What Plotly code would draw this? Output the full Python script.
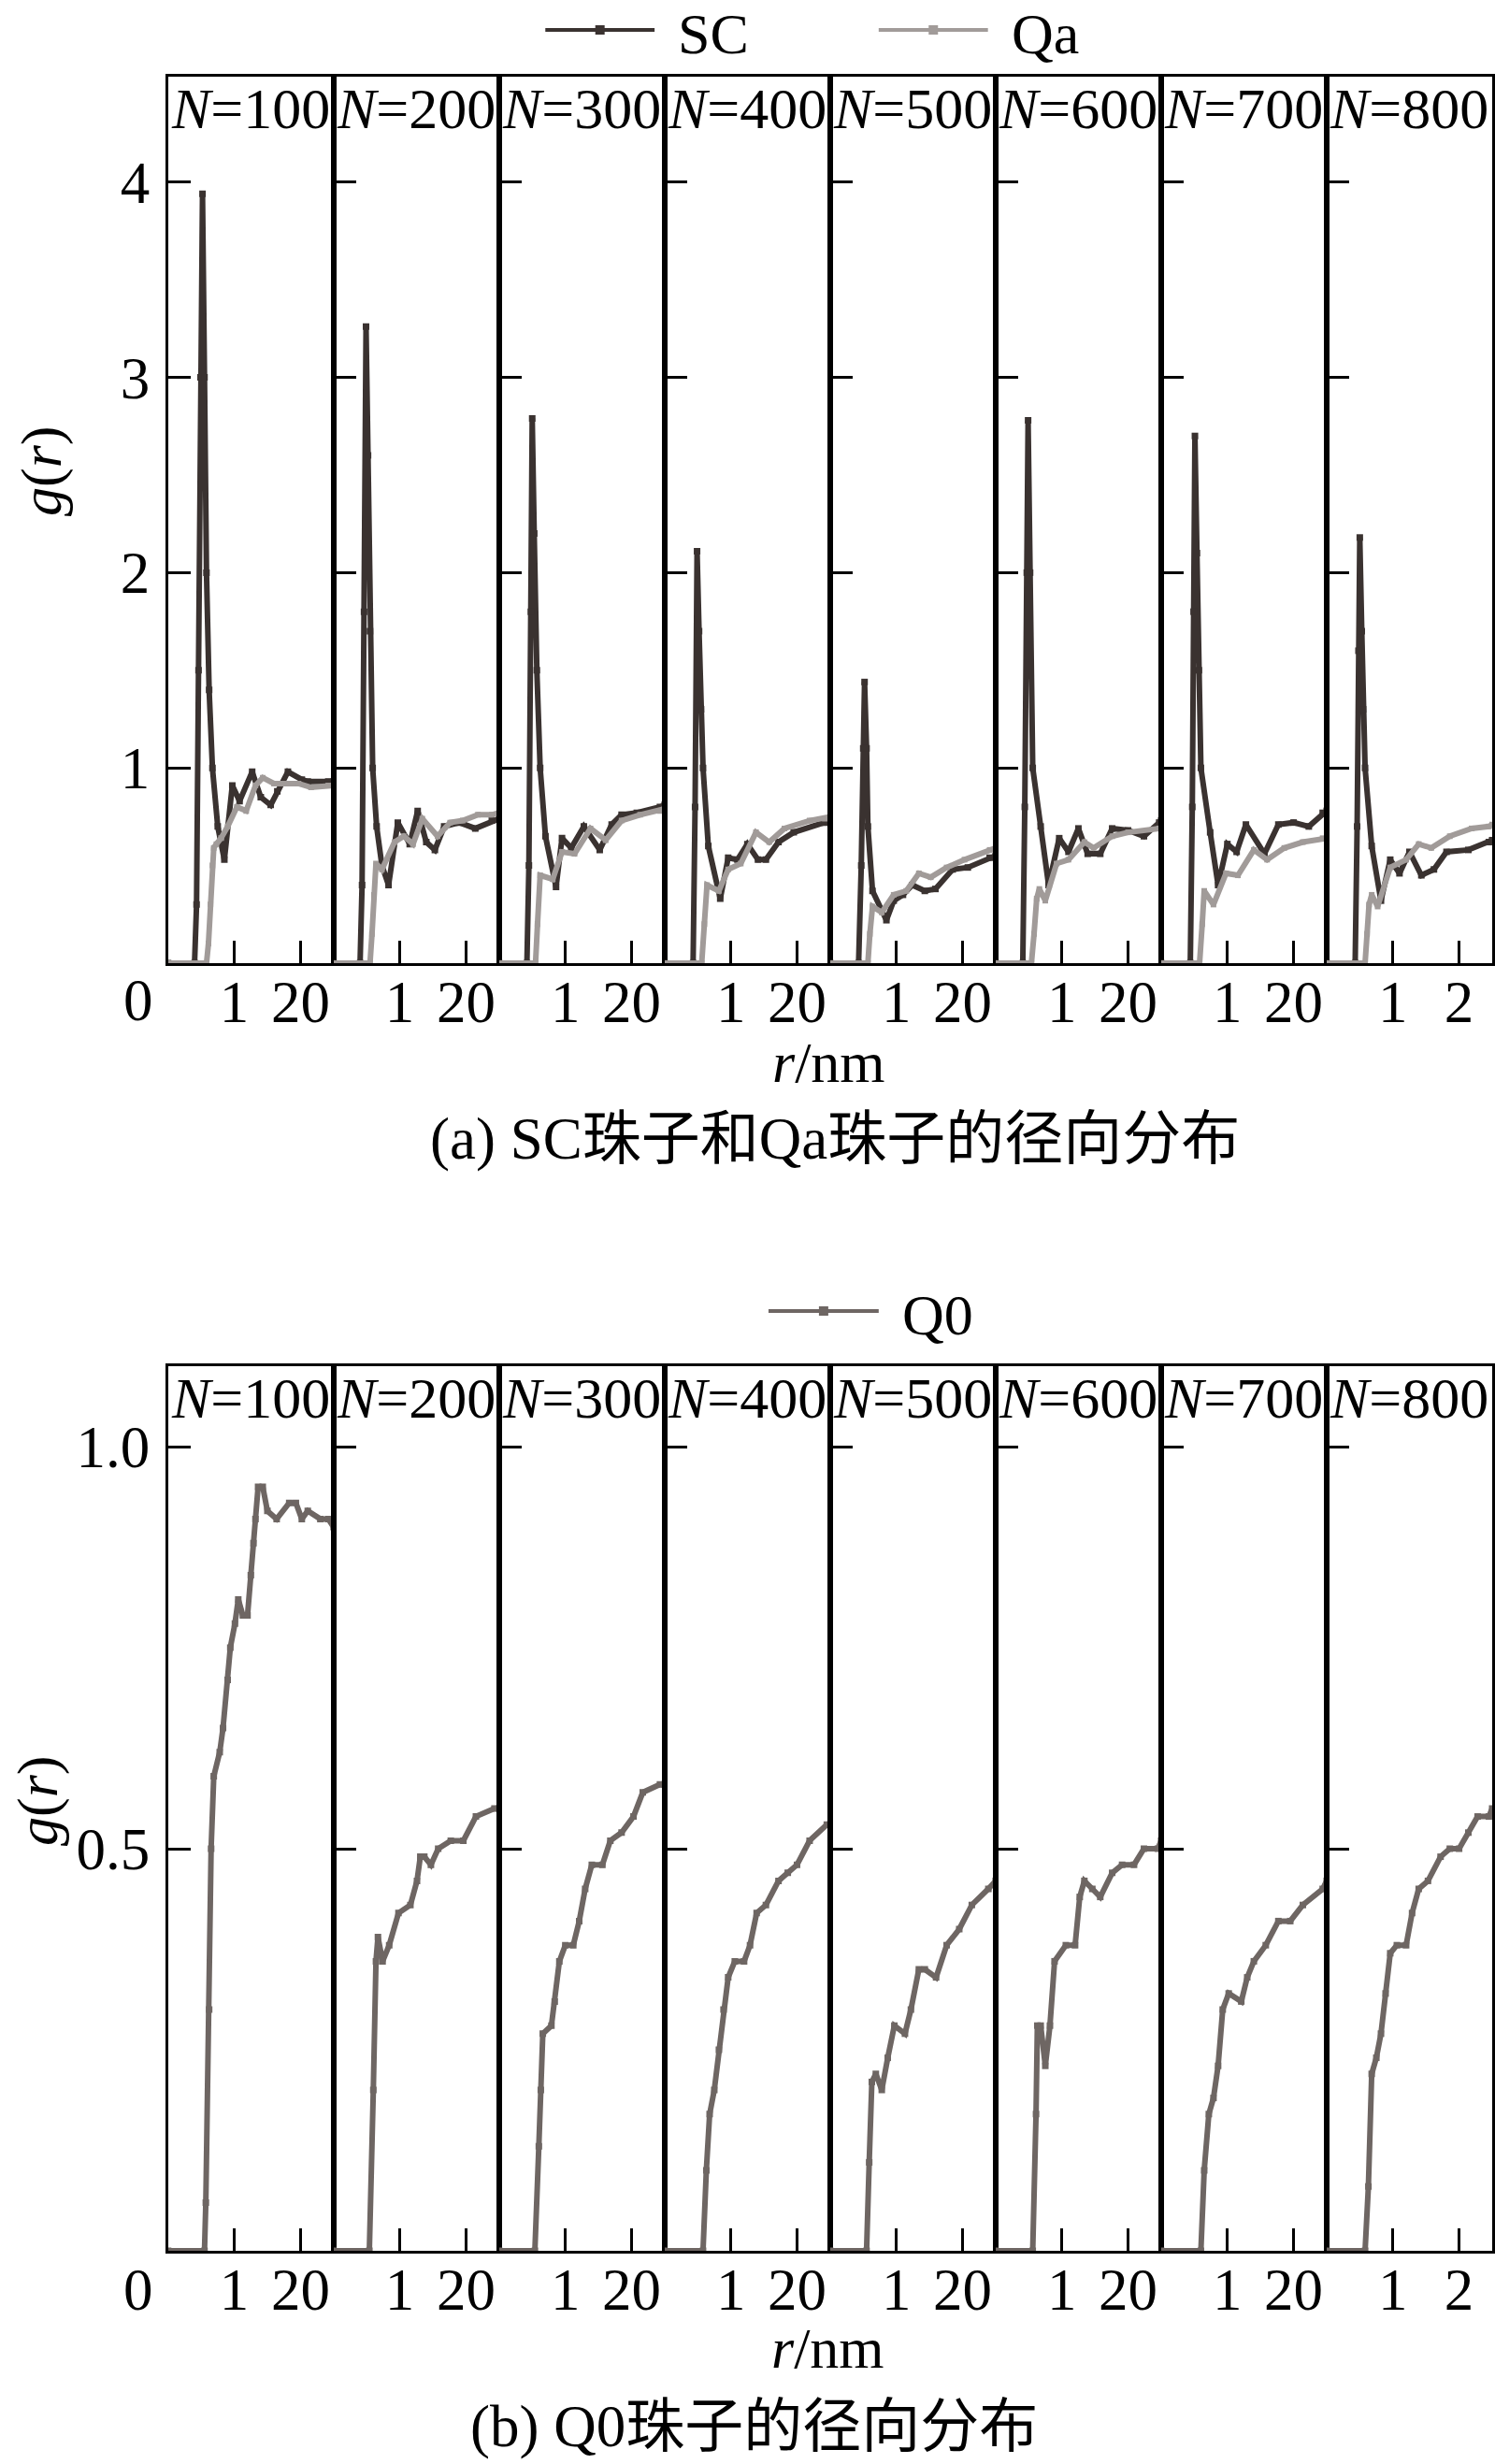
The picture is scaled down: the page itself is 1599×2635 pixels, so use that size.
import plotly.graph_objects as go
from plotly.subplots import make_subplots

# ---------------- data ----------------
n_values = [100, 200, 300, 400, 500, 600, 700, 800]

# (a) SC beads
r_sc_100 = [0, 0.40, 0.43, 0.46, 0.49, 0.52, 0.55, 0.58, 0.62, 0.67, 0.75, 0.85, 0.97, 1.08, 1.27, 1.40, 1.55, 1.65, 1.81, 2.02, 2.11, 2.42, 2.50]
g_sc_100 = [0, 0, 0.3, 1.5, 3.0, 3.94, 3.0, 2.0, 1.4, 1.0, 0.7, 0.53, 0.91, 0.83, 0.98, 0.85, 0.81, 0.88, 0.98, 0.94, 0.93, 0.93, 0.93]
r_sc_200 = [0, 0.40, 0.43, 0.46, 0.49, 0.52, 0.55, 0.59, 0.65, 0.73, 0.83, 0.97, 1.15, 1.27, 1.40, 1.53, 1.67, 1.90, 2.14, 2.39, 2.50]
g_sc_200 = [0, 0, 0.4, 1.8, 3.26, 2.6, 1.7, 1.0, 0.7, 0.5, 0.40, 0.72, 0.61, 0.78, 0.62, 0.58, 0.70, 0.72, 0.69, 0.73, 0.74]
r_sc_300 = [0, 0.42, 0.45, 0.48, 0.50, 0.53, 0.57, 0.62, 0.70, 0.86, 0.95, 1.09, 1.28, 1.52, 1.70, 1.85, 2.08, 2.43, 2.50]
g_sc_300 = [0, 0, 0.5, 1.8, 2.79, 2.2, 1.5, 1.0, 0.65, 0.39, 0.64, 0.59, 0.70, 0.58, 0.71, 0.76, 0.77, 0.80, 0.81]
r_sc_400 = [0, 0.43, 0.46, 0.49, 0.52, 0.55, 0.58, 0.66, 0.84, 0.96, 1.10, 1.25, 1.41, 1.53, 1.72, 1.95, 2.42, 2.50]
g_sc_400 = [0, 0, 0.8, 2.11, 1.7, 1.3, 1.0, 0.6, 0.33, 0.54, 0.53, 0.61, 0.53, 0.53, 0.62, 0.67, 0.72, 0.73]
r_sc_500 = [0, 0.43, 0.47, 0.50, 0.52, 0.55, 0.57, 0.64, 0.85, 0.96, 1.10, 1.24, 1.43, 1.59, 1.85, 2.08, 2.41, 2.50]
g_sc_500 = [0, 0, 0.5, 1.1, 1.44, 1.1, 0.70, 0.37, 0.22, 0.32, 0.35, 0.40, 0.37, 0.38, 0.48, 0.49, 0.54, 0.55]
r_sc_600 = [0, 0.41, 0.44, 0.47, 0.49, 0.52, 0.56, 0.68, 0.80, 0.96, 1.10, 1.25, 1.39, 1.58, 1.76, 2.00, 2.24, 2.47, 2.50]
g_sc_600 = [0, 0, 0.8, 2.0, 2.78, 2.0, 1.0, 0.70, 0.40, 0.64, 0.57, 0.69, 0.56, 0.56, 0.69, 0.68, 0.65, 0.72, 0.73]
r_sc_700 = [0, 0.44, 0.47, 0.49, 0.51, 0.54, 0.57, 0.60, 0.74, 0.86, 1.00, 1.14, 1.28, 1.56, 1.77, 2.00, 2.23, 2.44, 2.50]
g_sc_700 = [0, 0, 0.8, 1.8, 2.70, 2.1, 1.5, 1.0, 0.67, 0.40, 0.61, 0.57, 0.71, 0.56, 0.71, 0.72, 0.70, 0.77, 0.78]
r_sc_800 = [0, 0.43, 0.46, 0.48, 0.50, 0.53, 0.55, 0.58, 0.68, 0.82, 0.96, 1.10, 1.25, 1.43, 1.62, 1.81, 2.14, 2.45, 2.50]
g_sc_800 = [0, 0, 0.7, 1.6, 2.18, 1.7, 1.3, 1.0, 0.6, 0.32, 0.53, 0.46, 0.57, 0.45, 0.48, 0.57, 0.58, 0.62, 0.63]

# (a) Qa beads
r_qa_100 = [0, 0.58, 0.61, 0.64, 0.67, 0.69, 0.73, 0.80, 0.90, 1.04, 1.18, 1.32, 1.43, 1.60, 1.79, 1.97, 2.16, 2.42, 2.50]
g_qa_100 = [0, 0, 0.1, 0.3, 0.5, 0.59, 0.61, 0.64, 0.70, 0.80, 0.78, 0.91, 0.95, 0.92, 0.92, 0.92, 0.90, 0.91, 0.91]
r_qa_200 = [0, 0.55, 0.58, 0.61, 0.64, 0.73, 0.92, 1.06, 1.20, 1.34, 1.57, 1.76, 1.95, 2.18, 2.39, 2.50]
g_qa_200 = [0, 0, 0.15, 0.35, 0.51, 0.48, 0.62, 0.65, 0.61, 0.74, 0.65, 0.72, 0.73, 0.76, 0.76, 0.77]
r_qa_300 = [0, 0.55, 0.58, 0.62, 0.81, 0.95, 1.14, 1.38, 1.61, 1.85, 2.13, 2.43, 2.50]
g_qa_300 = [0, 0, 0.2, 0.45, 0.43, 0.57, 0.56, 0.69, 0.63, 0.73, 0.76, 0.78, 0.79]
r_qa_400 = [0, 0.56, 0.60, 0.64, 0.82, 0.96, 1.15, 1.38, 1.58, 1.81, 2.19, 2.42, 2.50]
g_qa_400 = [0, 0, 0.2, 0.40, 0.37, 0.48, 0.51, 0.67, 0.62, 0.69, 0.73, 0.74, 0.75]
r_qa_500 = [0, 0.57, 0.60, 0.64, 0.78, 0.96, 1.15, 1.34, 1.52, 1.76, 2.03, 2.41, 2.50]
g_qa_500 = [0, 0, 0.15, 0.29, 0.26, 0.35, 0.37, 0.46, 0.44, 0.49, 0.53, 0.58, 0.59]
r_qa_600 = [0, 0.54, 0.58, 0.62, 0.66, 0.75, 0.92, 1.10, 1.34, 1.48, 1.76, 2.00, 2.47, 2.50]
g_qa_600 = [0, 0, 0.15, 0.33, 0.38, 0.32, 0.51, 0.53, 0.62, 0.59, 0.65, 0.67, 0.69, 0.69]
r_qa_700 = [0, 0.58, 0.62, 0.65, 0.79, 0.98, 1.16, 1.40, 1.60, 1.86, 2.14, 2.44, 2.50]
g_qa_700 = [0, 0, 0.2, 0.37, 0.30, 0.46, 0.45, 0.58, 0.53, 0.59, 0.62, 0.64, 0.64]
r_qa_800 = [0, 0.58, 0.61, 0.64, 0.68, 0.77, 0.96, 1.20, 1.39, 1.58, 1.86, 2.19, 2.45, 2.50]
g_qa_800 = [0, 0, 0.15, 0.30, 0.35, 0.29, 0.49, 0.53, 0.61, 0.59, 0.65, 0.69, 0.70, 0.71]

# (b) Q0 beads
r_q0_100 = [0, 0.55, 0.57, 0.62, 0.65, 0.69, 0.78, 0.83, 0.90, 0.94, 1.01, 1.06, 1.13, 1.20, 1.25, 1.29, 1.32, 1.36, 1.43, 1.50, 1.64, 1.83, 1.93, 2.02, 2.11, 2.30, 2.42, 2.50]
g_q0_100 = [0, 0, 0.06, 0.30, 0.50, 0.59, 0.62, 0.65, 0.71, 0.75, 0.78, 0.81, 0.79, 0.79, 0.84, 0.88, 0.91, 0.95, 0.95, 0.92, 0.91, 0.93, 0.93, 0.91, 0.92, 0.91, 0.91, 0.90]
r_q0_200 = [0, 0.54, 0.60, 0.64, 0.67, 0.74, 0.84, 0.98, 1.16, 1.26, 1.31, 1.37, 1.47, 1.58, 1.77, 1.96, 2.15, 2.43, 2.50]
g_q0_200 = [0, 0, 0.2, 0.36, 0.39, 0.36, 0.38, 0.42, 0.43, 0.46, 0.49, 0.49, 0.48, 0.50, 0.51, 0.51, 0.54, 0.55, 0.55]
r_q0_300 = [0, 0.54, 0.60, 0.63, 0.66, 0.79, 0.84, 0.91, 1.00, 1.12, 1.21, 1.30, 1.40, 1.56, 1.68, 1.85, 2.03, 2.17, 2.43, 2.50]
g_q0_300 = [0, 0, 0.13, 0.20, 0.27, 0.28, 0.31, 0.36, 0.38, 0.38, 0.41, 0.45, 0.48, 0.48, 0.51, 0.52, 0.54, 0.57, 0.58, 0.58]
r_q0_400 = [0, 0.58, 0.63, 0.68, 0.75, 0.82, 0.89, 0.96, 1.06, 1.20, 1.29, 1.39, 1.53, 1.72, 1.86, 2.00, 2.19, 2.45, 2.50]
g_q0_400 = [0, 0, 0.10, 0.17, 0.20, 0.25, 0.30, 0.34, 0.36, 0.36, 0.38, 0.42, 0.43, 0.46, 0.47, 0.48, 0.51, 0.53, 0.53]
r_q0_500 = [0, 0.55, 0.59, 0.63, 0.69, 0.78, 0.87, 0.97, 1.13, 1.22, 1.34, 1.43, 1.60, 1.76, 1.95, 2.14, 2.39, 2.50]
g_q0_500 = [0, 0, 0.11, 0.21, 0.22, 0.20, 0.24, 0.28, 0.27, 0.30, 0.35, 0.35, 0.34, 0.38, 0.40, 0.43, 0.45, 0.46]
r_q0_600 = [0, 0.56, 0.61, 0.63, 0.68, 0.75, 0.82, 0.89, 1.06, 1.20, 1.27, 1.34, 1.46, 1.58, 1.76, 1.91, 2.09, 2.24, 2.45, 2.50]
g_q0_600 = [0, 0, 0.17, 0.28, 0.28, 0.23, 0.28, 0.36, 0.38, 0.38, 0.44, 0.46, 0.45, 0.44, 0.47, 0.48, 0.48, 0.50, 0.50, 0.51]
r_q0_700 = [0, 0.60, 0.65, 0.72, 0.79, 0.86, 0.93, 1.02, 1.21, 1.30, 1.40, 1.58, 1.77, 1.95, 2.14, 2.44, 2.50]
g_q0_700 = [0, 0, 0.10, 0.17, 0.19, 0.23, 0.30, 0.32, 0.31, 0.34, 0.36, 0.38, 0.41, 0.41, 0.43, 0.45, 0.46]
r_q0_800 = [0, 0.58, 0.63, 0.68, 0.75, 0.82, 0.89, 0.96, 1.06, 1.20, 1.29, 1.39, 1.53, 1.72, 1.86, 2.00, 2.14, 2.28, 2.45, 2.50]
g_q0_800 = [0, 0, 0.08, 0.22, 0.24, 0.27, 0.32, 0.37, 0.38, 0.38, 0.42, 0.45, 0.46, 0.49, 0.50, 0.50, 0.52, 0.54, 0.54, 0.55]

sc_data = [(r_sc_100, g_sc_100), (r_sc_200, g_sc_200), (r_sc_300, g_sc_300), (r_sc_400, g_sc_400),
           (r_sc_500, g_sc_500), (r_sc_600, g_sc_600), (r_sc_700, g_sc_700), (r_sc_800, g_sc_800)]
qa_data = [(r_qa_100, g_qa_100), (r_qa_200, g_qa_200), (r_qa_300, g_qa_300), (r_qa_400, g_qa_400),
           (r_qa_500, g_qa_500), (r_qa_600, g_qa_600), (r_qa_700, g_qa_700), (r_qa_800, g_qa_800)]
q0_data = [(r_q0_100, g_q0_100), (r_q0_200, g_q0_200), (r_q0_300, g_q0_300), (r_q0_400, g_q0_400),
           (r_q0_500, g_q0_500), (r_q0_600, g_q0_600), (r_q0_700, g_q0_700), (r_q0_800, g_q0_800)]

top_yticks = [1, 2, 3, 4]
bottom_yticks = [0.5, 1.0]
x_ticks = [1, 2]

# ---------------- styling ----------------
W, H = 1599, 2635
FONT = "Liberation Serif, Times New Roman, serif"
CJK = "Liberation Serif, Noto Sans CJK SC"
SC_COLOR = "#3a3230"
QA_COLOR = "#a19b99"
Q0_COLOR = "#6e6663"
FS = 62

def px(x):
    return x / W

def py(y):
    return 1 - y / H

left, right = 180, 1598
pw = (right - left) / 8
top_dom = [py(1030), py(82)]
bot_dom = [py(2407), py(1461)]

fig = make_subplots(rows=2, cols=8, horizontal_spacing=0, vertical_spacing=0.05)

for i in range(8):
    r, g = sc_data[i]
    fig.add_trace(go.Scatter(x=r, y=g, mode="lines+markers",
                             line=dict(color=SC_COLOR, width=6),
                             marker=dict(symbol="square", size=7, color=SC_COLOR),
                             showlegend=False), row=1, col=i + 1)
    r, g = qa_data[i]
    fig.add_trace(go.Scatter(x=r, y=g, mode="lines+markers",
                             line=dict(color=QA_COLOR, width=6),
                             marker=dict(symbol="square", size=6, color=QA_COLOR),
                             showlegend=False), row=1, col=i + 1)
    r, g = q0_data[i]
    fig.add_trace(go.Scatter(x=r, y=g, mode="lines+markers",
                             line=dict(color=Q0_COLOR, width=6),
                             marker=dict(symbol="square", size=7, color=Q0_COLOR),
                             showlegend=False), row=2, col=i + 1)

axis_common = dict(showline=True, mirror=True, linecolor="black", linewidth=3,
                   showgrid=False, zeroline=False, ticks="inside", ticklen=24,
                   tickwidth=3, tickcolor="black",
                   tickfont=dict(family=FONT, size=63, color="black"))

layout_axes = {}
for i in range(8):
    dom = [px(left + i * pw), px(left + (i + 1) * pw)]
    labels = ["1", "2"] if i == 7 else ["1", "20"]
    for row, ydom, yr, yt in [(0, top_dom, [0, 4.54], top_yticks),
                              (1, bot_dom, [0, 1.10], bottom_yticks)]:
        k = row * 8 + i + 1
        xa = "xaxis" if k == 1 else "xaxis%d" % k
        ya = "yaxis" if k == 1 else "yaxis%d" % k
        layout_axes[xa] = dict(axis_common, domain=dom, range=[0, 2.5],
                               tickvals=x_ticks, ticktext=labels,
                               ticklabelstandoff=-16)
        layout_axes[ya] = dict(axis_common, domain=ydom, range=yr, tickvals=yt,
                               tickformat=".1f" if row == 1 else "d",
                               showticklabels=(i == 0), ticklabelstandoff=4)

fig.update_layout(**layout_axes)

annotations = []
shapes = []

def label(x, y, text, size=FS, family=FONT, **kw):
    d = dict(x=px(x), y=py(y), xref="paper", yref="paper", text=text,
             showarrow=False, xanchor="center", yanchor="middle",
             font=dict(family=family, size=size, color="black"))
    d.update(kw)
    annotations.append(d)

for i, n in enumerate(n_values):
    cx = left + (i + 0.5) * pw
    label(cx, 116, "<i>N</i>=%d" % n)
    label(cx, 1495, "<i>N</i>=%d" % n)

# shared origin "0", axis titles and captions
label(148, 1070, "0", size=63)
label(148, 2449, "0", size=63)
label(44, 504, "<i>g</i>(<i>r</i>)", textangle=-90)
label(40, 1926, "<i>g</i>(<i>r</i>)", textangle=-90)
label(888, 1136, "<i>r</i>/nm")
label(887, 2511, "<i>r</i>/nm")
label(894, 1218, "(a) SC珠子和Qa珠子的径向分布", size=63, family=CJK)
label(808, 2595, "(b) Q0珠子的径向分布", size=63, family=CJK)

# hand-drawn legends (long sample lines as in the original)
legend_items = [("SC", SC_COLOR, 584, 701, 32), ("Qa", QA_COLOR, 941, 1058, 32),
                ("Q0", Q0_COLOR, 823, 941, 1402)]
for name, col, x0, x1, yy in legend_items:
    shapes.append(dict(type="line", xref="paper", yref="paper",
                       x0=px(x0), x1=px(x1), y0=py(yy), y1=py(yy),
                       line=dict(color=col, width=4)))
    xm = (x0 + x1) / 2
    shapes.append(dict(type="rect", xref="paper", yref="paper",
                       x0=px(xm - 5), x1=px(xm + 5), y0=py(yy - 5), y1=py(yy + 5),
                       fillcolor=col, line=dict(width=0)))
    label(x1 + 24, yy + 4, name, xanchor="left", borderpad=0)

fig.update_layout(width=W, height=H, autosize=False,
                  margin=dict(l=0, r=0, t=0, b=0),
                  paper_bgcolor="white", plot_bgcolor="white",
                  showlegend=False, annotations=annotations, shapes=shapes)

fig.write_html("out.html", config={"displayModeBar": False},
               post_script="document.body.style.margin='0';")
